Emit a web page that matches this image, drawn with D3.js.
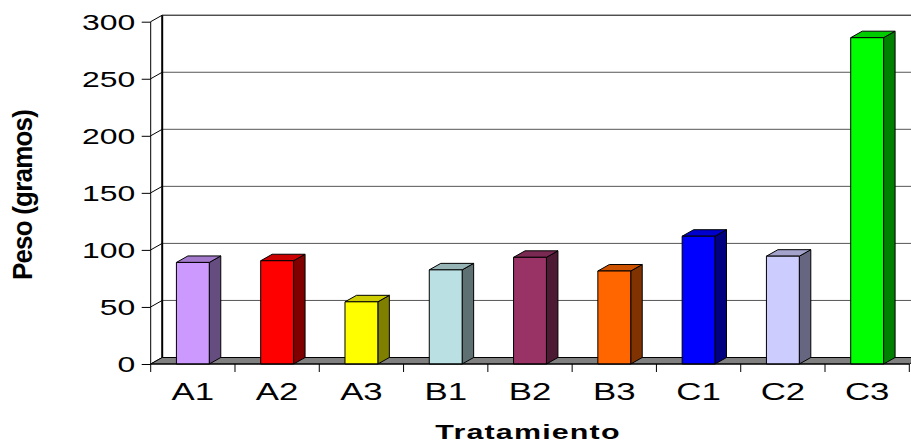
<!DOCTYPE html>
<html>
<head>
<meta charset="utf-8">
<script src="https://cdn.jsdelivr.net/npm/d3@7"></script>
<style>
  html, body { margin: 0; padding: 0; background: #fff; }
  svg { display: block; font-family: "Liberation Sans", Arial, sans-serif; }
</style>
</head>
<body>
<svg id="chart" width="911" height="445"></svg>
<script>
// Treatment categories and their measured weight
const categories = ["A1", "A2", "A3", "B1", "B2", "B3", "C1", "C2", "C3"];
const pesos = [89, 90.5, 54.5, 82.5, 93.5, 81.5, 112, 94.5, 286];
const yTicks = [0, 50, 100, 150, 200, 250, 300];

// Front-face colour of each bar
const barColors = ["#CC99FF", "#FF0000", "#FFFF00", "#BBE0E3", "#993366",
                   "#FF6600", "#0000FF", "#CCCCFF", "#00FF00"];

const svg = d3.select("#chart");

// Front plane geometry and the depth offset of the 3-D box
const xLeft = 150.7, xRight = 909.3;
const depthX = 11.5, depthY = -6.5;
const textStretch = 1.45;

const y = d3.scaleLinear().domain([0, 300]).range([364, 21.7]);
const slot = d3.scaleBand().domain(categories).range([xLeft, xRight]).padding(0);
const pad = 0.61;
const x = d3.scaleBand().domain(categories).range([xLeft, xRight])
  .paddingInner(pad).paddingOuter(pad / 2);

const shade = (c, k) => {
  const r = d3.rgb(c);
  return d3.rgb(r.r * k, r.g * k, r.b * k).formatHex();
};

// Back wall gridlines
svg.append("g").selectAll("line").data(yTicks).join("line")
  .attr("x1", xLeft + depthX).attr("x2", 940)
  .attr("y1", d => y(d) + depthY).attr("y2", d => y(d) + depthY)
  .attr("stroke", d => d === 300 ? "#000" : "#555")
  .attr("stroke-width", 1);

// Side wall: diagonal gridlines joining the axis to the back wall
svg.append("g").selectAll("line").data(yTicks).join("line")
  .attr("x1", xLeft).attr("x2", xLeft + depthX)
  .attr("y1", d => y(d)).attr("y2", d => y(d) + depthY)
  .attr("stroke", "#000").attr("stroke-width", 1);

// Back wall left edge
svg.append("line")
  .attr("x1", xLeft + depthX).attr("x2", xLeft + depthX)
  .attr("y1", y(300) + depthY).attr("y2", y(0) + depthY)
  .attr("stroke", "#000").attr("stroke-width", 2);

// Floor
const y0 = y(0);
svg.append("polygon")
  .attr("points", [
    [xLeft, y0], [xRight, y0], [xRight + depthX, y0 + depthY], [xLeft + depthX, y0 + depthY]
  ].map(p => p.join(",")).join(" "))
  .attr("fill", "#808080").attr("stroke", "#000").attr("stroke-width", 1);

// Bars as 3-D boxes: front, top and right side faces
const bars = svg.append("g").selectAll("g").data(categories).join("g");
bars.each(function (c, i) {
  const g = d3.select(this);
  const x0 = x(c), w = x.bandwidth(), yt = y(pesos[i]);
  const col = barColors[i];
  g.append("polygon")
    .attr("points", [[x0 + w, yt], [x0 + w + depthX, yt + depthY],
      [x0 + w + depthX, y0 + depthY], [x0 + w, y0]].map(p => p.join(",")).join(" "))
    .attr("fill", shade(col, 0.5));
  g.append("polygon")
    .attr("points", [[x0, yt], [x0 + depthX, yt + depthY],
      [x0 + w + depthX, yt + depthY], [x0 + w, yt]].map(p => p.join(",")).join(" "))
    .attr("fill", shade(col, 0.8));
  g.append("rect")
    .attr("x", x0).attr("y", yt).attr("width", w).attr("height", y0 - yt)
    .attr("fill", col);
  g.selectAll("polygon, rect")
    .attr("stroke", "#000").attr("stroke-width", 1).attr("stroke-linejoin", "round");
});

// Value axis
const yAxis = svg.append("g")
  .attr("transform", `translate(${xLeft},0)`)
  .call(d3.axisLeft(y).tickValues(yTicks).tickSize(9).tickSizeOuter(0));
yAxis.select(".domain").attr("stroke", "#000").attr("d", `M0,${y(300)}V${y(0)}`);
yAxis.selectAll(".tick line").attr("stroke", "#000");
yAxis.selectAll(".tick text")
  .attr("x", 0).attr("dy", "0.35em")
  .attr("transform", `translate(-15.5,0) scale(${textStretch},1)`)
  .attr("text-anchor", "end")
  .attr("font-size", 22).attr("fill", "#000")
  .attr("font-family", "Liberation Sans, Arial, sans-serif");

// Category axis: ticks at slot boundaries
const bounds = categories.map(c => slot(c)).concat([xRight]);
svg.append("line").attr("x1", xLeft).attr("x2", xRight).attr("y1", y0).attr("y2", y0)
  .attr("stroke", "#000");
svg.append("g").selectAll("line").data(bounds).join("line")
  .attr("x1", d => d).attr("x2", d => d).attr("y1", y0).attr("y2", y0 + 8)
  .attr("stroke", "#000");

svg.append("g").selectAll("text").data(categories).join("text")
  .attr("transform", c => `translate(${slot(c) + slot.bandwidth() / 2},399.5) scale(${textStretch},1)`)
  .attr("text-anchor", "middle")
  .attr("font-size", 24).attr("fill", "#000")
  .text(c => c);

// Axis titles
svg.append("text")
  .attr("transform", `translate(528,439) scale(${textStretch},1)`)
  .attr("text-anchor", "middle")
  .attr("font-size", 21).attr("font-weight", "bold").attr("letter-spacing", 0.8)
  .text("Tratamiento");

svg.append("text")
  .attr("transform", "translate(32,195) rotate(-90) scale(1,1.08)")
  .attr("text-anchor", "middle")
  .attr("font-size", 26).attr("font-weight", "bold").attr("letter-spacing", -0.8)
  .text("Peso (gramos)");
</script>
</body>
</html>
